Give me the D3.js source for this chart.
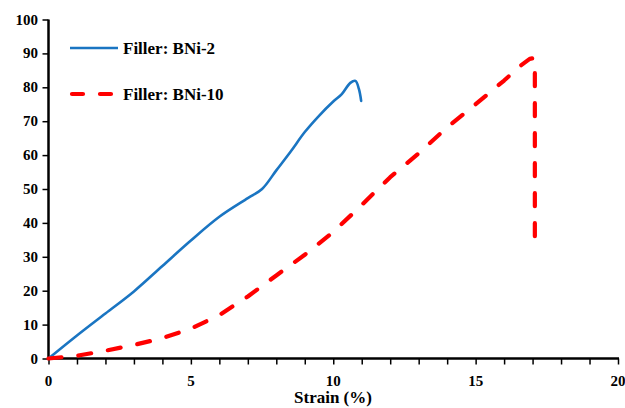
<!DOCTYPE html>
<html>
<head>
<meta charset="utf-8">
<script src="https://cdn.jsdelivr.net/npm/d3@7"></script>
<style>
  html, body { margin: 0; padding: 0; background: #fff; }
  svg { display: block; }
</style>
</head>
<body>
<svg id="chart" width="625" height="408"></svg>
<script>
// ---- data ----
const seriesNames = ["Filler: BNi-2", "Filler: BNi-10"];
const bni2Strain = [0, 1, 2, 3, 4, 5, 6, 7, 7.5, 8, 8.5, 9, 9.5, 10, 10.3, 10.6, 10.78, 10.9, 10.98];
const bni2Stress = [0, 6.8, 13.3, 19.8, 27.3, 34.8, 41.8, 47.3, 50, 55.5, 61, 66.8, 71.6, 75.8, 78, 81.3, 81.9, 79.5, 76];
const bni10Strain = [0, 1, 2, 3, 4, 5, 6, 7, 8, 9, 10, 11, 12, 13, 14, 15, 16, 16.6, 16.9, 17.05, 17.08, 17.08];
const bni10Stress = [0, 0.8, 2.3, 4, 6, 8.8, 12.8, 18.3, 24.5, 30.6, 37.3, 45.3, 53.5, 60.5, 68.2, 75, 82, 86.5, 88.4, 88.6, 87, 35];
const xTicks = [0, 5, 10, 15, 20];
const xMinorTicks = d3.range(0, 21, 1);
const yTicks = [0, 10, 20, 30, 40, 50, 60, 70, 80, 90, 100];
const xTitle = "Strain (%)";

// ---- layout ----
const FONT = "'Liberation Serif', 'Times New Roman', 'DejaVu Serif', serif";
const svg = d3.select("#chart");
const x = d3.scaleLinear().domain([0, 20]).range([48.5, 618]);
const y = d3.scaleLinear().domain([0, 100]).range([358.5, 19.5]);

const blue = "#1a75c2";
const red = "#ff0000";

function txt(g) {
  return g.attr("font-family", FONT).attr("font-weight", "bold").attr("fill", "#000");
}

// axes
const xAxis = d3.axisBottom(x).tickValues(xMinorTicks).tickSize(6).tickFormat("");
const gx = svg.append("g").attr("transform", `translate(0,${y(0)})`).call(xAxis);
gx.select(".domain").attr("stroke", "#000").attr("stroke-width", 2.5).attr("d", `M${x(0)-1},0H${x(20)+1}`);
gx.selectAll(".tick line").attr("stroke", "#000").attr("stroke-width", 1.5);

svg.append("g").selectAll("text").data(xTicks).join("text")
  .call(txt)
  .attr("x", d => x(d)).attr("y", 386)
  .attr("text-anchor", "middle").attr("font-size", 15)
  .text(d => d);

const yAxis = d3.axisLeft(y).tickValues(yTicks).tickSize(6).tickFormat("");
const gy = svg.append("g").attr("transform", `translate(${x(0)},0)`).call(yAxis);
gy.select(".domain").attr("stroke", "#000").attr("stroke-width", 2.5).attr("d", `M0,${y(100)}V${y(0)+1}`);
gy.selectAll(".tick line").attr("stroke", "#000").attr("stroke-width", 1.5);

svg.append("g").selectAll("text").data(yTicks).join("text")
  .call(txt)
  .attr("x", 38).attr("y", d => y(d) + 5)
  .attr("text-anchor", "end").attr("font-size", 15)
  .text(d => d);

svg.append("text").call(txt).attr("x", 333).attr("y", 403).attr("text-anchor", "middle")
  .attr("font-size", 17).text(xTitle);

// lines
const line = d3.line().x(d => x(d[0])).y(d => y(d[1])).curve(d3.curveLinear);
const smooth = d3.line().x(d => x(d[0])).y(d => y(d[1])).curve(d3.curveCatmullRom.alpha(0.5));

const bni2 = bni2Strain.map((s, i) => [s, bni2Stress[i]]);
const bni10 = bni10Strain.map((s, i) => [s, bni10Stress[i]]);

svg.append("path").attr("d", smooth(bni2)).attr("fill", "none")
  .attr("stroke", blue).attr("stroke-width", 2.6).attr("stroke-linejoin", "round").attr("stroke-linecap", "round");

svg.append("path").attr("d", line(bni10)).attr("fill", "none")
  .attr("stroke", red).attr("stroke-width", 4.2).attr("stroke-dasharray", "13,17")
  .attr("stroke-linejoin", "round").attr("stroke-linecap", "round");

// legend
const leg = svg.append("g");
leg.append("line").attr("x1", 70).attr("x2", 118).attr("y1", 48).attr("y2", 48)
  .attr("stroke", blue).attr("stroke-width", 2.6);
leg.append("text").call(txt).attr("x", 123).attr("y", 54).attr("font-size", 17).text(seriesNames[0]);
leg.append("line").attr("x1", 72).attr("x2", 116).attr("y1", 94).attr("y2", 94)
  .attr("stroke", red).attr("stroke-width", 4.2).attr("stroke-dasharray", "11,17").attr("stroke-linecap", "round");
leg.append("text").call(txt).attr("x", 123).attr("y", 100).attr("font-size", 17).text(seriesNames[1]);
</script>
</body>
</html>
